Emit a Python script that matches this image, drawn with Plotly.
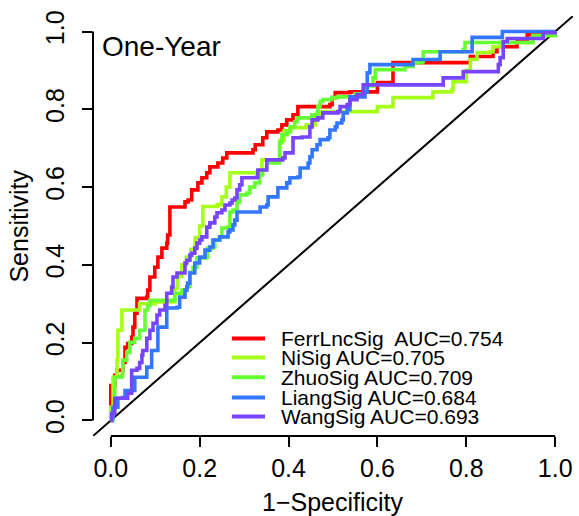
import plotly.graph_objects as go

# ---------------- data ----------------
series_names = ["FerrLncSig", "NiSig", "ZhuoSig", "LiangSig", "WangSig"]
legend_labels = ["FerrLncSig\u00a0 AUC=0.754", "NiSig AUC=0.705", "ZhuoSig AUC=0.709",
                 "LiangSig AUC=0.684", "WangSig AUC=0.693"]
colors = ["#FF0000", "#A6FF1A", "#66FF33", "#3377FF", "#7744FF"]

ferr_fpr = [0, 0, 0, 0.009, 0.014, 0.027, 0.032, 0.038, 0.047, 0.05, 0.054, 0.059, 0.059, 0.081, 0.083,
            0.088, 0.099, 0.106, 0.115, 0.126, 0.128, 0.133, 0.167, 0.174, 0.182, 0.196, 0.205, 0.216,
            0.223, 0.241, 0.252, 0.261, 0.32, 0.325, 0.342, 0.351, 0.376, 0.385, 0.396, 0.41, 0.421,
            0.493, 0.498, 0.505, 0.538, 0.6, 0.6, 0.635, 0.635, 0.797, 0.809, 0.86, 0.869, 0.914,
            0.937, 1.0]
ferr_tpr = [0, 0.07, 0.09, 0.116, 0.129, 0.149, 0.188, 0.198, 0.214, 0.24, 0.276, 0.296, 0.314, 0.317,
            0.335, 0.369, 0.394, 0.42, 0.443, 0.456, 0.477, 0.549, 0.562, 0.567, 0.593, 0.611, 0.624,
            0.637, 0.652, 0.662, 0.675, 0.688, 0.696, 0.709, 0.727, 0.742, 0.747, 0.76, 0.773, 0.786,
            0.807, 0.812, 0.83, 0.843, 0.845, 0.845, 0.869, 0.869, 0.92, 0.92, 0.936, 0.948, 0.961,
            0.974, 0.992, 1.0]

ni_fpr = [0, 0, 0.005, 0.014, 0.016, 0.025, 0.065, 0.10, 0.144, 0.144, 0.15, 0.16, 0.17, 0.18, 0.19,
          0.2, 0.207, 0.24, 0.25, 0.26, 0.268, 0.33, 0.34, 0.36, 0.38, 0.39, 0.405, 0.44, 0.46, 0.47,
          0.6, 0.6, 0.635, 0.635, 0.725, 0.725, 0.768, 0.77, 0.80, 0.809, 0.824, 0.854, 0.86, 0.876,
          0.95, 1.0]
ni_tpr = [0, 0.034, 0.111, 0.155, 0.232, 0.284, 0.30, 0.305, 0.305, 0.34, 0.37, 0.40, 0.42, 0.44, 0.47,
          0.5, 0.55, 0.555, 0.575, 0.60, 0.637, 0.64, 0.67, 0.67, 0.72, 0.745, 0.753, 0.76, 0.78, 0.794,
          0.794, 0.807, 0.812, 0.83, 0.83, 0.845, 0.851, 0.871, 0.90, 0.928, 0.946, 0.948, 0.961, 0.972,
          0.99, 1.0]

zhuo_fpr = [0, 0.005, 0.009, 0.025, 0.027, 0.036, 0.043, 0.054, 0.065, 0.077, 0.083, 0.088, 0.133,
            0.144, 0.16, 0.171, 0.178, 0.185, 0.194, 0.216, 0.218, 0.23, 0.234, 0.245, 0.25, 0.264,
            0.268, 0.275, 0.284, 0.29, 0.306, 0.313, 0.324, 0.335, 0.342, 0.351, 0.38, 0.385, 0.397,
            0.403, 0.414, 0.42, 0.443, 0.452, 0.464, 0.466, 0.471, 0.477, 0.497, 0.51, 0.55, 0.57,
            0.59, 0.595, 0.658, 0.662, 0.68, 0.7, 0.703, 0.793, 0.797, 0.86, 0.95, 1.0]
zhuo_tpr = [0, 0.031, 0.111, 0.116, 0.155, 0.175, 0.201, 0.211, 0.232, 0.284, 0.296, 0.309, 0.309,
            0.327, 0.335, 0.345, 0.381, 0.394, 0.418, 0.42, 0.443, 0.446, 0.464, 0.472, 0.495, 0.497,
            0.536, 0.541, 0.562, 0.58, 0.585, 0.6, 0.611, 0.631, 0.644, 0.662, 0.714, 0.735, 0.742,
            0.755, 0.768, 0.778, 0.778, 0.786, 0.791, 0.807, 0.82, 0.825, 0.83, 0.832, 0.84, 0.86,
            0.881, 0.902, 0.902, 0.91, 0.92, 0.923, 0.948, 0.954, 0.972, 0.972, 0.99, 1.0]

liang_fpr = [0, 0.002, 0.005, 0.016, 0.027, 0.032, 0.043, 0.054, 0.081, 0.092, 0.106, 0.122, 0.126,
             0.149, 0.155, 0.167, 0.171, 0.173, 0.178, 0.189, 0.2, 0.212, 0.223, 0.23, 0.245, 0.264,
             0.268, 0.275, 0.279, 0.284, 0.336, 0.351, 0.354, 0.374, 0.376, 0.396, 0.403, 0.421, 0.426,
             0.444, 0.448, 0.453, 0.464, 0.471, 0.489, 0.493, 0.505, 0.509, 0.52, 0.523, 0.532, 0.538,
             0.572, 0.577, 0.583, 0.678, 0.68, 0.741, 0.741, 0.809, 0.813, 0.876, 0.881, 1.0]
liang_tpr = [0, 0.008, 0.034, 0.057, 0.059, 0.077, 0.077, 0.111, 0.137, 0.18, 0.24, 0.24, 0.289,
             0.291, 0.317, 0.335, 0.343, 0.353, 0.379, 0.405, 0.42, 0.438, 0.446, 0.464, 0.472, 0.485,
             0.49, 0.503, 0.515, 0.536, 0.549, 0.554, 0.575, 0.575, 0.598, 0.611, 0.624, 0.626, 0.649,
             0.662, 0.678, 0.696, 0.709, 0.722, 0.727, 0.747, 0.755, 0.765, 0.773, 0.791, 0.799, 0.832,
             0.845, 0.894, 0.915, 0.915, 0.928, 0.933, 0.948, 0.948, 0.985, 0.985, 1.0, 1.0]

wang_fpr = [0, 0.002, 0.009, 0.009, 0.036, 0.038, 0.047, 0.059, 0.065, 0.07, 0.072, 0.081, 0.088,
            0.095, 0.104, 0.11, 0.122, 0.126, 0.137, 0.14, 0.149, 0.167, 0.171, 0.178, 0.182, 0.189,
            0.194, 0.2, 0.205, 0.216, 0.223, 0.234, 0.239, 0.25, 0.257, 0.268, 0.273, 0.279, 0.284,
            0.29, 0.295, 0.329, 0.331, 0.351, 0.387, 0.392, 0.41, 0.43, 0.448, 0.453, 0.466, 0.477,
            0.511, 0.516, 0.532, 0.538, 0.554, 0.568, 0.748, 0.748, 0.791, 0.793, 0.815, 0.872, 0.876,
            0.883, 0.892, 0.973, 0.973, 1.0]
wang_tpr = [0, 0.018, 0.026, 0.057, 0.057, 0.07, 0.129, 0.134, 0.149, 0.168, 0.18, 0.211, 0.232,
            0.25, 0.271, 0.284, 0.296, 0.327, 0.343, 0.369, 0.379, 0.405, 0.412, 0.425, 0.43, 0.443,
            0.456, 0.464, 0.472, 0.497, 0.508, 0.523, 0.534, 0.541, 0.554, 0.559, 0.567, 0.572, 0.593,
            0.606, 0.624, 0.626, 0.644, 0.67, 0.675, 0.688, 0.727, 0.729, 0.755, 0.773, 0.778, 0.791,
            0.794, 0.807, 0.812, 0.825, 0.838, 0.863, 0.863, 0.881, 0.881, 0.897, 0.897, 0.915, 0.933,
            0.974, 0.982, 0.985, 0.997, 1.0]

all_fpr = [ferr_fpr, ni_fpr, zhuo_fpr, liang_fpr, wang_fpr]
all_tpr = [ferr_tpr, ni_tpr, zhuo_tpr, liang_tpr, wang_tpr]

tick_vals = [0.0, 0.2, 0.4, 0.6, 0.8, 1.0]
tick_text = ["0.0", "0.2", "0.4", "0.6", "0.8", "1.0"]
axis_range = [-0.04, 1.04]
panel_title = "One-Year"
x_title = "1\u2212Specificity"
y_title = "Sensitivity"

FONT = "Liberation Sans, Arial, Helvetica, sans-serif"

fig = go.Figure()

# reference diagonal (abline 0,1) across the whole plotting region
fig.add_trace(go.Scatter(x=axis_range, y=axis_range, mode="lines",
                         line=dict(color="black", width=2), showlegend=False, hoverinfo="skip"))

for name, fx, ty, col in zip(series_names, all_fpr, all_tpr, colors):
    fig.add_trace(go.Scatter(x=fx, y=ty, mode="lines", name=name,
                             line=dict(color=col, width=3.6, shape="hv"),
                             showlegend=False))

# manual R-style legend
legend_y = [0.211, 0.162, 0.111, 0.059, 0.010]
for lab, col, ly in zip(legend_labels, colors, legend_y):
    fig.add_shape(type="line", xref="x", yref="y", x0=0.2725, x1=0.347, y0=ly, y1=ly,
                  line=dict(color=col, width=4))
    fig.add_annotation(x=0.379, y=ly, xref="x", yref="y", text=lab, showarrow=False,
                       xanchor="left", yanchor="middle", font=dict(family=FONT, size=21, color="black"))

# axis lines only between first and last tick (R style)
fig.add_shape(type="line", xref="x", yref="paper", x0=0, x1=1, y0=0, y1=0,
              line=dict(color="black", width=2))
fig.add_shape(type="line", xref="paper", yref="y", x0=0, x1=0, y0=0, y1=1,
              line=dict(color="black", width=2))

fig.add_annotation(x=-0.025, y=0.961, xref="x", yref="y", text=panel_title, showarrow=False,
                   xanchor="left", yanchor="middle", font=dict(family=FONT, size=28, color="black"))

# axis titles
fig.add_annotation(x=0.5, y=-0.158, xref="x", yref="paper", text=x_title, showarrow=False,
                   xanchor="center", yanchor="middle", font=dict(family=FONT, size=25, color="black"))
fig.add_annotation(x=-0.155, y=0.5, xref="paper", yref="y", text=y_title, showarrow=False,
                   textangle=-90, xanchor="center", yanchor="middle",
                   font=dict(family=FONT, size=25, color="black"))

fig.update_layout(
    width=579, height=516,
    margin=dict(l=93, r=6, t=16, b=80),
    paper_bgcolor="white", plot_bgcolor="white",
    font=dict(family=FONT, color="black"),
    showlegend=False,
    xaxis=dict(range=axis_range, tickvals=tick_vals, ticktext=tick_text, ticks="outside",
               ticklen=10, tickwidth=2, tickcolor="black", showgrid=False, zeroline=False,
               showline=False, tickfont=dict(size=25, family=FONT), automargin=False),
    yaxis=dict(range=axis_range, tickvals=tick_vals, ticktext=tick_text, ticks="outside",
               ticklen=10, tickwidth=2, tickcolor="black", showgrid=False, zeroline=False,
               showline=False, tickangle=-90, tickfont=dict(size=25, family=FONT),
               ticklabelstandoff=8, automargin=False),
)

fig.write_html("out.html", config={"displayModeBar": False},
               post_script="document.body.style.margin='0';document.body.style.overflow='hidden';")
